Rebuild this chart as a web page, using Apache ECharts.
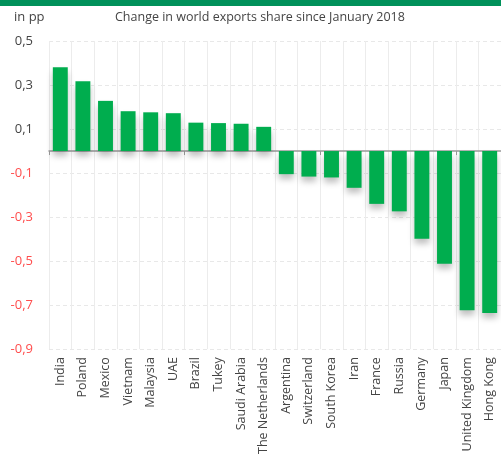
<!DOCTYPE html>
<html><head><meta charset="utf-8">
<script src="https://cdn.jsdelivr.net/npm/echarts@6/dist/echarts.min.js"></script>
<style>html,body{margin:0;padding:0;background:#fff;}#c{width:501px;height:457px;}</style>
</head><body><div id="c"></div>
<script>
var categories = ['India','Poland','Mexico','Vietnam','Malaysia','UAE','Brazil','Tukey','Saudi Arabia','The Netherlands','Argentina','Switzerland','South Korea','Iran','France','Russia','Germany','Japan','United Kingdom','Hong Kong'];
var values = [0.381,0.317,0.228,0.181,0.176,0.172,0.129,0.127,0.124,0.110,-0.105,-0.116,-0.120,-0.167,-0.240,-0.274,-0.399,-0.512,-0.723,-0.736];
var yMin = -0.9, yMax = 0.5, yStep = 0.2;
var unitLabel = 'in pp';
var titleText = 'Change in world exports share since January 2018';

var chart = echarts.init(document.getElementById('c'));
var font = '"Open Sans", "Noto Sans", sans-serif';
chart.setOption({
  animation: false,
  textStyle: {fontFamily: font},
  graphic: [
    {type: 'rect', shape: {x: 0, y: 0, width: 501, height: 6}, style: {fill: '#00915a'}},
    {type: 'text', left: 14, top: 11, style: {text: unitLabel, font: '13px ' + font, fill: '#444'}},
    {type: 'text', left: 115, top: 11, style: {text: titleText, font: '12.5px ' + font, fill: '#444'}}
  ],
  grid: {left: 49, right: -4, top: 41, bottom: 99, containLabel: false},
  xAxis: [
    {type: 'category', data: categories,
     axisLine: {onZero: true, lineStyle: {color: '#999', width: 1.5}},
     axisTick: {show: true, length: 4, lineStyle: {color: '#999'}},
     axisLabel: {show: false}, splitLine: {show: false}},
    {type: 'category', data: categories, position: 'bottom',
     axisLine: {show: false}, axisTick: {show: false},
     axisLabel: {show: true, rotate: 90, interval: 0, fontSize: 12.5, color: '#444', margin: 8, fontFamily: font},
     splitLine: {show: true, lineStyle: {color: '#ececec', width: 1}}}
  ],
  yAxis: {type: 'value', min: yMin, max: yMax, interval: yStep,
    axisLine: {show: false}, axisTick: {show: false},
    axisLabel: {fontSize: 13, margin: 16, fontFamily: font,
      formatter: function (v) { return (Math.round(v * 10) / 10).toFixed(1).replace('.', ','); },
      color: function (v) { return parseFloat(v) < 0 ? '#ff4d4d' : '#444'; }},
    splitLine: {show: true, lineStyle: {color: '#e8e8e8', type: [4, 3], width: 1}}
  },
  series: [{type: 'bar', data: values, barWidth: '66%', xAxisIndex: 0,
    itemStyle: {color: '#00ad4e', shadowColor: 'rgba(0,0,0,0.25)', shadowBlur: 6, shadowOffsetY: 5}}]
});
</script></body></html>
